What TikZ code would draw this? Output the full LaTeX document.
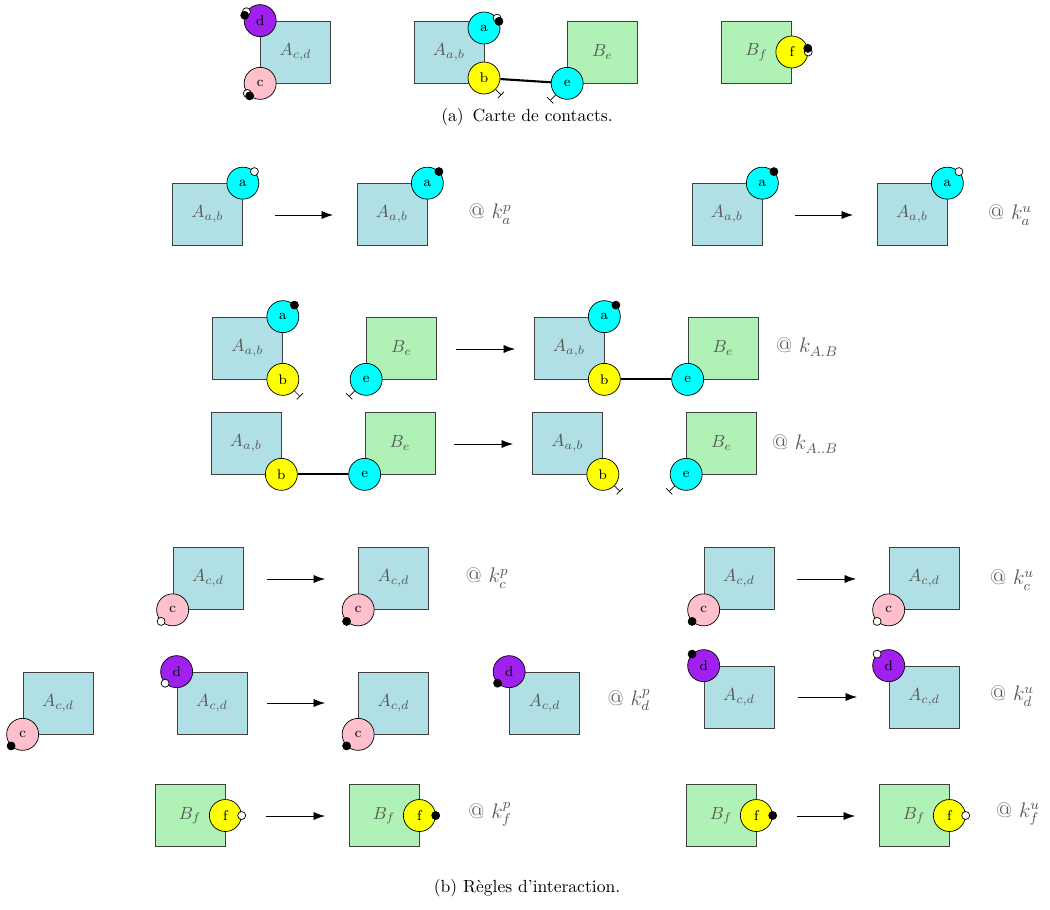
\documentclass[tikz,border=0pt]{standalone}
\usepackage{tikz}
\usetikzlibrary{arrows.meta}
\definecolor{agentblue}{RGB}{176,224,230}
\definecolor{agentgreen}{RGB}{176,242,182}
\definecolor{sitecyan}{RGB}{0,255,255}
\definecolor{siteyellow}{RGB}{255,255,0}
\definecolor{sitepink}{RGB}{255,192,203}
\definecolor{sitepurple}{RGB}{160,32,240}

\begin{document}
\begin{tikzpicture}[x=0.02cm, y=-0.02cm,
    >={Latex[length=6.5pt,width=4.6pt]},   % Pfeilspitzen der Regeln
    agentA/.style={draw=black!75, fill=agentblue, minimum width=1.4cm, minimum height=1.24cm, inner sep=0pt, text=black!65},
    agentB/.style={agentA, fill=agentgreen},
    sitenode/.style={circle, draw, fill=#1, minimum size=0.64cm, inner sep=0pt, font=\footnotesize},
    statep/.style={circle, draw, fill=black, minimum size=0.16cm, inner sep=0pt},
    stateu/.style={statep, fill=white},
    freesite/.style={-{Bar[width=5pt]}},
    bond/.style={line width=1.2pt},
    rate/.style={font=\large, text=black!65}]
  \useasboundingbox (0,0) rectangle (1050,909);
  % Carte de contacts
  \node[agentA] (mapAcd) at (295.5,52) {$A_{c,d}$};
  \node[sitenode=sitepurple] (mapd) at (mapAcd.north west) {d};
  \node[sitenode=sitepink] (mapc) at (mapAcd.south west) {c};
  \node[stateu] at (mapd.147) {};
  \node[statep] at (mapd.161) {};
  \node[stateu] at (mapc.218) {};
  \node[statep] at (mapc.230) {};
  \node[agentA] (mapAab) at (449,52) {$A_{a,b}$};
  \node[sitenode=sitecyan] (mapa) at (484,28) {a};
  \node[sitenode=siteyellow] (mapb) at (484,78) {b};
  \node[stateu] at (mapa.37) {};
  \node[statep] at (mapa.24) {};
  \node[agentB] (mapBe) at (602.5,52) {$B_e$};
  \node[sitenode=sitecyan] (mape) at (mapBe.south west) {e};
  \draw[bond] (mapb) -- (mape);
  \draw[freesite] (mapb.-45) -- ++(-45:0.16cm);
  \draw[freesite] (mape.-135) -- ++(-135:0.16cm);
  \node[agentB] (mapBf) at (756.5,52) {$B_f$};
  \node[sitenode=siteyellow] (mapf) at (mapBf.east) {f};
  \node[stateu] at (mapf.0) {};
  \node[statep] at (mapf.13) {};
  \node (capa) at (527,117) {(a)\hspace{5pt}Carte de contacts.};
  % Regeln: Pfeile
  \foreach \xa/\xb/\y [count=\i] in {275/333/215, 795/853/215, 456/515/349, 454/513/444, 267/325/579,
      797/856/579, 267/325/703, 798/857/697, 266/325/816, 797/855/816} {
    \coordinate (arr\i s) at (\xa,\y);
    \coordinate (arr\i e) at (\xb,\y);
    \draw[->] (arr\i s) -- (arr\i e);
  }
  % k_a^p
  \node[agentA] (ap1) at (207.5,214.5) {$A_{a,b}$};
  \node[sitenode=sitecyan] (ap1a) at (ap1.north east) {a};
  \node[stateu] at (ap1a.45) {};
  \node[agentA] (ap2) at (392,214.5) {$A_{a,b}$};
  \node[sitenode=sitecyan] (ap2a) at (ap2.north east) {a};
  \node[statep] at (ap2a.45) {};
  \node[rate] (apk) at (490,214) {@ $k_a^p$};
  % k_a^u
  \node[agentA] (au1) at (727,214.5) {$A_{a,b}$};
  \node[sitenode=sitecyan] (au1a) at (au1.north east) {a};
  \node[statep] at (au1a.45) {};
  \node[agentA] (au2) at (912,214.5) {$A_{a,b}$};
  \node[sitenode=sitecyan] (au2a) at (au2.north east) {a};
  \node[stateu] at (au2a.45) {};
  \node[rate] (auk) at (1010,215) {@ $k_a^u$};
  % k_{A.B}
  \node[agentA] (ab1) at (247.5,348) {$A_{a,b}$};
  \node[sitenode=sitecyan] (ab1a) at (ab1.north east) {a};
  \node[sitenode=siteyellow] (ab1b) at (ab1.south east) {b};
  \node[statep] at (ab1a.45) {};
  \draw[freesite] (ab1b.-45) -- ++(-45:0.16cm);
  \node[agentB] (ab1B) at (401.5,348) {$B_e$};
  \node[sitenode=sitecyan] (ab1e) at (ab1B.south west) {e};
  \draw[freesite] (ab1e.-135) -- ++(-135:0.16cm);
  \node[agentA] (ab2) at (569,348) {$A_{a,b}$};
  \node[sitenode=sitecyan] (ab2a) at (ab2.north east) {a};
  \node[sitenode=siteyellow] (ab2b) at (ab2.south east) {b};
  \node[statep] at (ab2a.45) {};
  \node[agentB] (ab2B) at (723,348) {$B_e$};
  \node[sitenode=sitecyan] (ab2e) at (ab2B.south west) {e};
  \draw[bond] (ab2b) -- (ab2e);
  \node[rate] (abk) at (807,347) {@ $k_{A.B}$};
  % k_{A..B}
  \node[agentA] (un1) at (246,443) {$A_{a,b}$};
  \node[sitenode=siteyellow] (un1b) at (un1.south east) {b};
  \node[agentB] (un1B) at (400,443) {$B_e$};
  \node[sitenode=sitecyan] (un1e) at (un1B.south west) {e};
  \draw[bond] (un1b) -- (un1e);
  \node[agentA] (un2) at (567.5,443) {$A_{a,b}$};
  \node[sitenode=siteyellow] (un2b) at (un2.south east) {b};
  \draw[freesite] (un2b.-45) -- ++(-45:0.16cm);
  \node[agentB] (un2B) at (721.5,443) {$B_e$};
  \node[sitenode=sitecyan] (un2e) at (un2B.south west) {e};
  \draw[freesite] (un2e.-135) -- ++(-135:0.16cm);
  \node[rate] (unk) at (805,444) {@ $k_{A..B}$};
  % k_c^p
  \node[agentA] (cp1) at (208,578.5) {$A_{c,d}$};
  \node[sitenode=sitepink] (cp1c) at (cp1.south west) {c};
  \node[stateu] at (cp1c.225) {};
  \node[agentA] (cp2) at (393.5,578.5) {$A_{c,d}$};
  \node[sitenode=sitepink] (cp2c) at (cp2.south west) {c};
  \node[statep] at (cp2c.225) {};
  \node[rate] (cpk) at (487,578) {@ $k_c^p$};
  % k_c^u
  \node[agentA] (cu1) at (739,578.5) {$A_{c,d}$};
  \node[sitenode=sitepink] (cu1c) at (cu1.south west) {c};
  \node[statep] at (cu1c.225) {};
  \node[agentA] (cu2) at (924,578.5) {$A_{c,d}$};
  \node[sitenode=sitepink] (cu2c) at (cu2.south west) {c};
  \node[stateu] at (cu2c.225) {};
  \node[rate] (cuk) at (1012,580) {@ $k_c^u$};
  % k_d^p
  \node[agentA] (dp0) at (58,703) {$A_{c,d}$};
  \node[sitenode=sitepink] (dp0c) at (dp0.south west) {c};
  \node[statep] at (dp0c.225) {};
  \node[agentA] (dp1) at (212,703) {$A_{c,d}$};
  \node[sitenode=sitepurple] (dp1d) at (dp1.north west) {d};
  \node[stateu] at (dp1d.225) {};
  \node[agentA] (dp2) at (393.5,703) {$A_{c,d}$};
  \node[sitenode=sitepink] (dp2c) at (dp2.south west) {c};
  \node[statep] at (dp2c.225) {};
  \node[agentA] (dp3) at (544.5,703) {$A_{c,d}$};
  \node[sitenode=sitepurple] (dp3d) at (dp3.north west) {d};
  \node[statep] at (dp3d.225) {};
  \node[rate] (dpk) at (629,700) {@ $k_d^p$};
  % k_d^u
  \node[agentA] (du1) at (739,697) {$A_{c,d}$};
  \node[sitenode=sitepurple] (du1d) at (du1.north west) {d};
  \node[statep] at (du1d.135) {};
  \node[agentA] (du2) at (924,697) {$A_{c,d}$};
  \node[sitenode=sitepurple] (du2d) at (du2.north west) {d};
  \node[stateu] at (du2d.135) {};
  \node[rate] (duk) at (1012,696) {@ $k_d^u$};
  % k_f^p
  \node[agentB] (fp1) at (190,815.5) {$B_f$};
  \node[sitenode=siteyellow] (fp1f) at (fp1.east) {f};
  \node[stateu] at (fp1f.0) {};
  \node[agentB] (fp2) at (384,815.5) {$B_f$};
  \node[sitenode=siteyellow] (fp2f) at (fp2.east) {f};
  \node[statep] at (fp2f.0) {};
  \node[rate] (fpk) at (490,814) {@ $k_f^p$};
  % k_f^u
  \node[agentB] (fu1) at (721,815.5) {$B_f$};
  \node[sitenode=siteyellow] (fu1f) at (fu1.east) {f};
  \node[statep] at (fu1f.0) {};
  \node[agentB] (fu2) at (914,815.5) {$B_f$};
  \node[sitenode=siteyellow] (fu2f) at (fu2.east) {f};
  \node[stateu] at (fu2f.0) {};
  \node[rate] (fuk) at (1018,814) {@ $k_f^u$};
  \node (capb) at (527,888) {(b) R\`egles d'interaction.};
\end{tikzpicture}
\end{document}
